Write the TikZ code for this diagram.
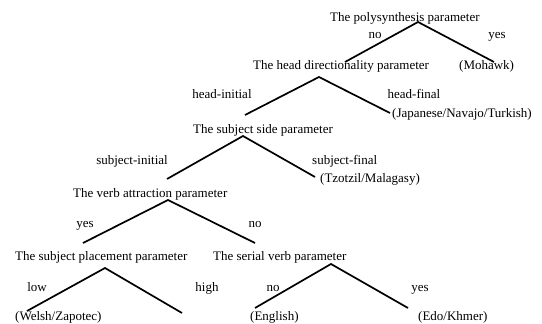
\documentclass[tikz,border=0pt]{standalone}
\usepackage{fontspec}
\setmainfont{Liberation Serif}
\begin{document}
\begin{tikzpicture}[x=1pt,y=-1pt,
  txt/.style={inner sep=0pt,anchor=base west,font=\fontsize{13}{15}\selectfont},
  lab/.style={inner sep=0pt,anchor=base,font=\fontsize{13}{15}\selectfont},
  branch/.style={line width=1.7pt,line join=miter}]
\useasboundingbox (0,0) rectangle (542,324);
% nodes
\node[txt] (poly) at (330,22) {The polysynthesis parameter};
\node[lab] (pno) at (375,38) {no};
\node[lab] (pyes) at (497,38) {yes};
\node[txt] (head) at (253,70) {The head directionality parameter};
\node[txt] (mohawk) at (459,70) {(Mohawk)};
\node[lab] (hini) at (222,99) {head-initial};
\node[lab] (hfin) at (414,99) {head-final};
\node[txt] (jap) at (392,117) {(Japanese/Navajo/Turkish)};
\node[txt] (subj) at (193,133) {The subject side parameter};
\node[lab] (sini) at (132,164) {subject-initial};
\node[txt] (sfin) at (312,164) {subject-final};
\node[txt] (tzo) at (320,182) {(Tzotzil/Malagasy)};
\node[txt] (verb) at (73,197) {The verb attraction parameter};
\node[lab] (vyes) at (85,227) {yes};
\node[lab] (vno) at (255,227) {no};
\node[txt] (place) at (15,260) {The subject placement parameter};
\node[txt] (serial) at (213,260) {The serial verb parameter};
\node[lab] (low) at (37,291) {low};
\node[lab] (high) at (207,291) {high};
\node[lab] (sno) at (273,291) {no};
\node[lab] (syes) at (420,291) {yes};
\node[txt] (welsh) at (15,320) {(Welsh/Zapotec)};
\node[txt] (english) at (250,320) {(English)};
\node[txt] (edo) at (418,320) {(Edo/Khmer)};
% branch points
\coordinate (a1) at (418,22);  \coordinate (l1) at (345,62);  \coordinate (r1) at (494,62);
\coordinate (a2) at (319,77);  \coordinate (l2) at (245,115); \coordinate (r2) at (390,113);
\coordinate (a3) at (243,136); \coordinate (l3) at (167,179); \coordinate (r3) at (315,177);
\coordinate (a4) at (168,200); \coordinate (l4) at (83,243);  \coordinate (r4) at (255,243);
\coordinate (a5) at (105,268); \coordinate (l5) at (27,311);  \coordinate (r5) at (182,313);
\coordinate (a6) at (331,264); \coordinate (l6) at (255,308); \coordinate (r6) at (408,308);
\draw[branch] (l1) -- (a1) -- (r1);
\draw[branch] (l2) -- (a2) -- (r2);
\draw[branch] (l3) -- (a3) -- (r3);
\draw[branch] (l4) -- (a4) -- (r4);
\draw[branch] (l5) -- (a5) -- (r5);
\draw[branch] (l6) -- (a6) -- (r6);
\end{tikzpicture}
\end{document}
